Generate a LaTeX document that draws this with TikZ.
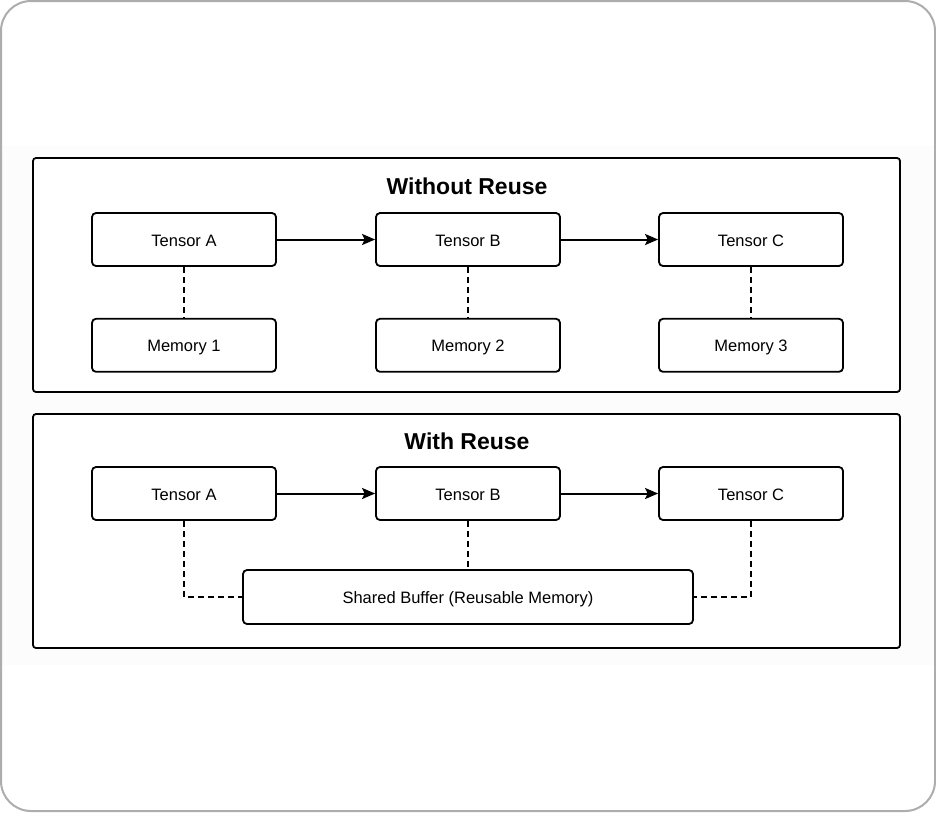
\documentclass[tikz,border=0pt]{standalone}
\usepackage{fontspec}
\setmainfont{Liberation Sans}
\usepackage{xcolor}
\usetikzlibrary{arrows.meta, positioning}

\tikzset{
  box/.style={draw, line width=1.8pt, rounded corners=4pt, fill=white,
    minimum width=184pt, minimum height=53pt, inner sep=0pt,
    text height=14pt, text depth=1pt,
    font=\fontsize{16.5}{19}\selectfont},
  panel/.style={draw, line width=1.8pt, rounded corners=3pt, fill=white},
  paneltitle/.style={font=\fontsize{23}{27}\selectfont\bfseries},
  flow/.style={-{Stealth[length=13pt, width=11pt, inset=2.5pt]}, line width=2pt},
  link/.style={line width=1.8pt, dash pattern=on 6pt off 4pt},
}

\begin{document}
\begin{tikzpicture}[x=1pt, y=-1pt]
  \useasboundingbox (0,0) rectangle (936,812);
  % frame and faint band
  \fill[black!1.2] (2,146) rectangle (934,665);
  \draw[black!32, line width=2pt, rounded corners=30pt] (1,1) rectangle (935,811);

  % without reuse
  \draw[panel] (33,158) rectangle (900,392);
  \node[paneltitle] (t1) at (467,186) {Without Reuse};
  \node[box] (ta1) at (184,239.5) {Tensor A};
  \node[box] (tb1) at (468,239.5) {Tensor B};
  \node[box] (tc1) at (751,239.5) {Tensor C};
  \node[box, below=51pt of ta1] (m1) {Memory 1};
  \node[box, below=51pt of tb1] (m2) {Memory 2};
  \node[box, below=51pt of tc1] (m3) {Memory 3};
  \draw[flow] (ta1) -- (tb1);
  \draw[flow] (tb1) -- (tc1);
  \foreach \t/\m in {ta1/m1, tb1/m2, tc1/m3}
    \draw[link] (\t) -- (\m);

  % with reuse
  \draw[panel] (33,414) rectangle (900,648);
  \node[paneltitle] (t2) at (467,441) {With Reuse};
  \node[box] (ta2) at (184,493.5) {Tensor A};
  \node[box] (tb2) at (468,493.5) {Tensor B};
  \node[box] (tc2) at (751,493.5) {Tensor C};
  \node[box, minimum width=450pt, minimum height=54pt] (sb) at (468,597)
    {Shared Buffer (Reusable Memory)};
  \draw[flow] (ta2) -- (tb2);
  \draw[flow] (tb2) -- (tc2);
  \draw[link] (ta2.south) |- (sb.west);
  \draw[link] (tb2) -- (sb);
  \draw[link] (tc2.south) |- (sb.east);
\end{tikzpicture}
\end{document}
